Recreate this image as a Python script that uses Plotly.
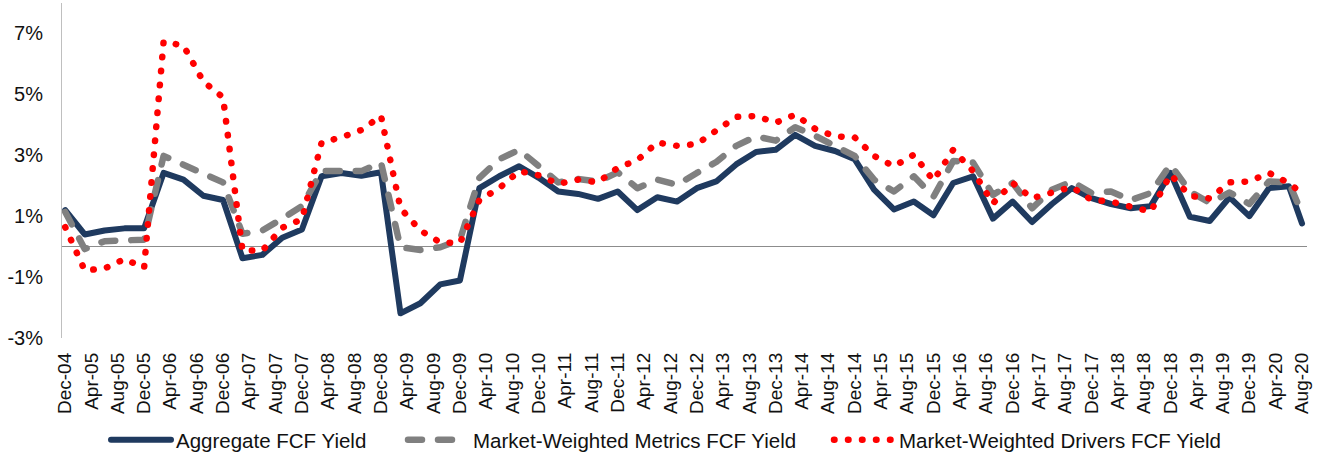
import pandas as pd
import plotly.graph_objects as go

dates = list(pd.date_range('2004-12-01', '2020-06-01', freq='3MS').strftime('%Y-%m-%d')) + ['2020-08-01']

aggregate = [1.2, 0.4, 0.53, 0.6, 0.6, 2.42, 2.2, 1.67, 1.53, -0.38, -0.27, 0.29, 0.56, 2.31, 2.42, 2.33,
             2.44, -2.19, -1.86, -1.24, -1.11, 1.92, 2.31, 2.64, 2.26, 1.81, 1.73, 1.57, 1.81, 1.2, 1.62, 1.48,
             1.92, 2.14, 2.7, 3.11, 3.18, 3.67, 3.31, 3.14, 2.87, 1.87, 1.22, 1.48, 1.03, 2.09, 2.31, 0.92,
             1.48, 0.81, 1.4, 1.92, 1.59, 1.4, 1.26, 1.33, 2.42, 0.98, 0.84, 1.62, 1.0, 1.92, 1.98, 0.76]

metrics = [1.14, -0.08, 0.18, 0.23, 0.23, 2.98, 2.7, 2.42, 2.11, 0.42, 0.53, 0.92, 1.33, 2.48, 2.5, 2.48,
           2.76, -0.02, -0.11, -0.02, 0.22, 2.26, 2.87, 3.18, 2.64, 2.11, 2.22, 2.14, 2.44, 1.92, 2.2, 2.03,
           2.42, 2.78, 3.31, 3.62, 3.48, 3.92, 3.64, 3.31, 2.98, 2.2, 1.81, 2.31, 1.64, 2.81, 2.76, 1.7,
           2.09, 1.26, 1.87, 2.14, 1.76, 1.81, 1.53, 1.76, 2.7, 1.81, 1.44, 1.78, 1.4, 2.14, 2.11, 1.09]

drivers = [0.64, -0.78, -0.72, -0.41, -0.69, 6.73, 6.6, 5.42, 4.9, -0.13, -0.13, 0.62, 0.9, 3.42, 3.59, 3.83,
           4.29, 1.26, 0.53, 0.14, 0.12, 1.53, 1.92, 2.48, 2.34, 2.06, 2.2, 2.11, 2.59, 2.84, 3.42, 3.31,
           3.37, 3.78, 4.26, 4.29, 4.07, 4.33, 3.87, 3.62, 3.59, 2.98, 2.64, 3.02, 2.17, 3.18, 2.48, 1.42,
           2.09, 1.59, 1.76, 1.96, 1.53, 1.48, 1.31, 1.15, 2.37, 1.67, 1.58, 2.11, 2.14, 2.42, 2.09, 1.75]

y_ticks = [-3, -1, 1, 3, 5, 7]
y_tick_text = ['-3%', '-1%', '1%', '3%', '5%', '7%']

FONT = 'Liberation Sans, Arial, sans-serif'
W, H = 1324, 460

fig = go.Figure()
fig.add_trace(go.Scatter(x=dates, y=aggregate, mode='lines', name='Aggregate FCF Yield',
                         line=dict(color='#1F3A5F', width=6), legend='legend'))
fig.add_trace(go.Scatter(x=dates, y=metrics, mode='lines', name='Market-Weighted Metrics FCF Yield',
                         line=dict(color='#808080', width=6.5, dash='14px,16px'), legend='legend2'))
fig.add_trace(go.Scatter(x=dates, y=drivers, mode='lines', name='Market-Weighted Drivers FCF Yield',
                         line=dict(color='#FF0000', width=6.5, dash='0.5px,13.5px'), legend='legend3'))


def leg(x_px):
    return dict(orientation='h', x=x_px / W, xanchor='left', xref='container',
                y=1 - 440 / H, yanchor='middle', yref='container',
                itemwidth=60, font=dict(size=20.5), bgcolor='rgba(0,0,0,0)')


fig.update_layout(
    width=W, height=H,
    margin=dict(l=62, r=17, t=3, b=122),
    paper_bgcolor='white', plot_bgcolor='white',
    font=dict(family=FONT, size=19, color='#111111'),
    showlegend=True,
    legend=leg(106), legend2=leg(403), legend3=leg(829),
    xaxis=dict(type='date', range=['2004-11-16', '2020-08-24'],
               tick0='2004-12-01', dtick='M4', tickformat='%b-%y', tickangle=-90,
               showgrid=False, showline=False, zeroline=False, ticks='',
               ticklabelstandoff=10, tickfont=dict(size=19)),
    yaxis=dict(range=[-3, 8], tickvals=y_ticks, ticktext=y_tick_text,
               showgrid=False, showline=True, linecolor='#BFBFBF', linewidth=1,
               zeroline=True, zerolinecolor='#8C8C8C', zerolinewidth=1,
               ticks='', ticklabelstandoff=14, tickfont=dict(size=20)),
)

post = """
document.body.style.margin = '0';
document.body.style.padding = '0';
var gd = document.getElementById('{plot_id}');
function fixCaps(){
  gd.querySelectorAll('path.js-line').forEach(function(p){
    p.style.strokeLinecap = 'round';
    p.style.strokeLinejoin = 'round';
  });
}
fixCaps();
gd.on('plotly_afterplot', fixCaps);
"""

fig.write_html("out.html", post_script=post, config={'displayModeBar': False})
